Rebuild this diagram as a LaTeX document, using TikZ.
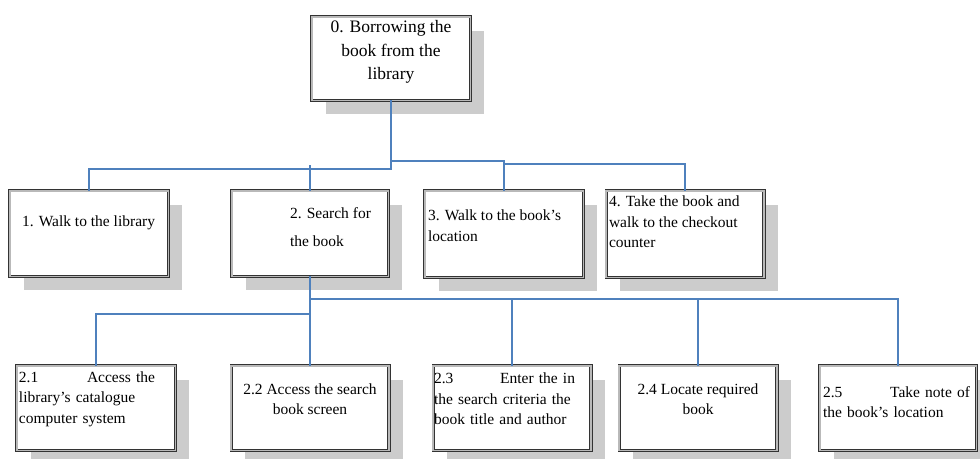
\documentclass[tikz,border=0pt]{standalone}
\usepackage{fontspec}
\setmainfont{Liberation Serif}
\usetikzlibrary{shadows}
\definecolor{linkblue}{RGB}{79,129,189}
\definecolor{shade}{RGB}{204,204,204}
\tikzset{
  box/.style={draw=black!80, line width=0.9pt, double=gray!55, double distance=1.6pt,
    fill=white, inner sep=0pt, outer sep=0pt,
    drop shadow={opacity=1, fill=shade, shadow xshift=14pt, shadow yshift=-14pt}},
  conn/.style={draw=linkblue, line width=1.2pt},
  txt/.style={inner sep=0pt, outer sep=0pt, font=\fontsize{15.5}{20.5}\selectfont},
  bigtxt/.style={inner sep=0pt, outer sep=0pt, font=\fontsize{17.5}{23.5}\selectfont},
}
\begin{document}
\begin{tikzpicture}[x=1pt, y=-1pt]
\clip (0,0) rectangle (980,458);
\fill[white] (0,0) rectangle (980,458);

% boxes
\node[box, minimum width=158.6pt, minimum height=83.6pt] (b0) at (391,58.5) {};
\node[box, minimum width=158.6pt, minimum height=85.6pt] (b1) at (89,233.5) {};
\node[box, minimum width=156.6pt, minimum height=85.6pt] (b2) at (310,233.5) {};
\node[box, minimum width=158.6pt, minimum height=86.6pt] (b3) at (504,234) {};
\node[box, minimum width=157.6pt, minimum height=86.6pt] (b4) at (685,234) {};
\node[box, minimum width=158.6pt, minimum height=84.6pt] (b21) at (96,408) {};
\node[box, minimum width=157.6pt, minimum height=84.6pt] (b22) at (310,408) {};
\node[box, minimum width=157.6pt, minimum height=84.6pt] (b23) at (512,408) {};
\node[box, minimum width=157.6pt, minimum height=84.6pt] (b24) at (698,408) {};
\node[box, minimum width=156.6pt, minimum height=84.6pt] (b25) at (898,408) {};

% labels
\node[bigtxt, align=center] (t0) at (391,52) {0. Borrowing the\\book from the\\library};
\node[txt, anchor=west] (t1) at (22,223) {1. Walk to the library};
\node[txt, anchor=west, align=left, font=\fontsize{15.5}{28}\selectfont] (t2) at (290,227) {2. Search for\\the book};
\node[txt, anchor=west, align=left] (t3) at (428,225.5) {3. Walk to the book’s\\location};
\node[txt, anchor=west, align=left] (t4) at (609,222) {4. Take the book and\\walk to the checkout\\counter};
\node[txt, anchor=west, text width=136pt, align=left] (t21) at (19,399) {2.1\hfill Access the\\library’s catalogue\\computer system};
\node[txt, align=center] (t22) at (310,399) {2.2 Access the search\\book screen};
\node[txt, anchor=west, text width=141pt, align=left] (t23) at (434,399) {2.3\hfill Enter the in\\the search criteria the\\book title and author};
\node[txt, align=center] (t24) at (698,399) {2.4 Locate required\\book};
\node[txt, anchor=west, text width=147pt, align=left] (t25) at (823,402) {2.5\hfill Take note of\\the book’s location};

% connectors, first level
\coordinate (jl) at (391,169);
\coordinate (jr) at (391,161);
\coordinate (jr2) at (504,164);
\coordinate (j2) at (310,165);
\draw[conn] (b0.south) -- (jl) -| (b1.north);
\draw[conn] (jr) -| (b3.north);
\draw[conn] (jr2) -| (b4.north);
\draw[conn] (j2) -- (b2.north);

% connectors, second level
\coordinate (k1) at (310,314);
\coordinate (k2) at (310,299);
\draw[conn] (b2.south) -- (b22.north);
\draw[conn] (k1) -| (b21.north);
\draw[conn] (k2) -| (b25.north);
\draw[conn] (b23.north |- k2) -- (b23.north);
\draw[conn] (b24.north |- k2) -- (b24.north);
\end{tikzpicture}
\end{document}
